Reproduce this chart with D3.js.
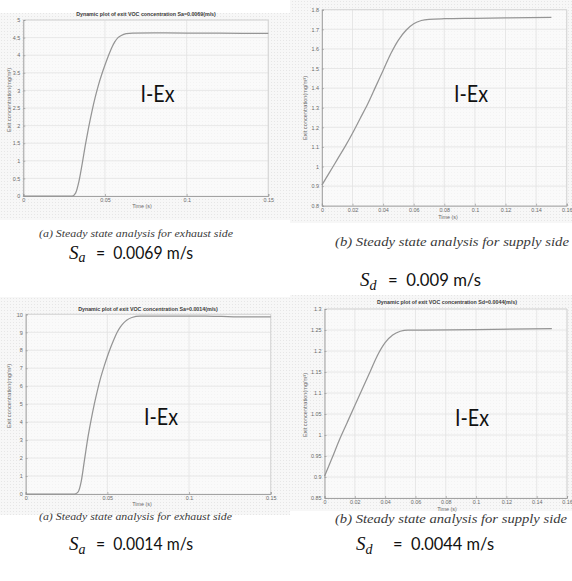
<!DOCTYPE html>
<html><head><meta charset="utf-8">
<script src="https://cdn.jsdelivr.net/npm/d3@7"></script>
<style>body{margin:0;background:#fff}</style>
</head><body><svg id="c" width="572" height="581"></svg>
<script>
// ---------- data ----------
const timeA1 = [0, 0.01, 0.02, 0.03, 0.032, 0.034, 0.036, 0.038, 0.040, 0.042, 0.044, 0.046, 0.048, 0.050, 0.052, 0.054, 0.056, 0.058, 0.060, 0.063, 0.067, 0.08, 0.1, 0.12, 0.15];
const concA1 = [0, 0, 0, 0, 0.08, 0.4, 0.9, 1.45, 1.95, 2.4, 2.8, 3.15, 3.45, 3.72, 3.97, 4.2, 4.38, 4.5, 4.56, 4.61, 4.63, 4.635, 4.63, 4.625, 4.62];

const timeD1 = [0, 0.005, 0.010, 0.015, 0.020, 0.025, 0.030, 0.035, 0.040, 0.045, 0.050, 0.055, 0.060, 0.065, 0.070, 0.080, 0.1, 0.12, 0.15];
const concD1 = [0.905, 0.97, 1.035, 1.1, 1.17, 1.245, 1.32, 1.405, 1.49, 1.575, 1.645, 1.695, 1.728, 1.745, 1.751, 1.754, 1.756, 1.758, 1.761];

const timeA2 = [0, 0.01, 0.02, 0.03, 0.032, 0.034, 0.036, 0.038, 0.040, 0.042, 0.044, 0.046, 0.048, 0.050, 0.052, 0.054, 0.056, 0.058, 0.060, 0.062, 0.065, 0.070, 0.09, 0.11, 0.12, 0.13, 0.15];
const concA2 = [0, 0, 0, 0, 0.1, 0.7, 1.9, 3.1, 4.1, 5.0, 5.8, 6.5, 7.1, 7.65, 8.15, 8.6, 9.0, 9.3, 9.52, 9.68, 9.82, 9.9, 9.9, 9.9, 9.88, 9.85, 9.85];

const timeD2 = [0, 0.005, 0.010, 0.015, 0.020, 0.025, 0.030, 0.035, 0.040, 0.045, 0.050, 0.055, 0.065, 0.1, 0.15];
const concD2 = [0.902, 0.945, 0.99, 1.03, 1.07, 1.11, 1.15, 1.19, 1.22, 1.238, 1.247, 1.25, 1.25, 1.251, 1.253];

const xTicksA = [0, 0.05, 0.1, 0.15];
const xTicksD = [0, 0.02, 0.04, 0.06, 0.08, 0.1, 0.12, 0.14, 0.16];
const yTicksA1 = [0, 0.5, 1, 1.5, 2, 2.5, 3, 3.5, 4, 4.5, 5];
const yTicksD1 = [0.8, 0.9, 1, 1.1, 1.2, 1.3, 1.4, 1.5, 1.6, 1.7, 1.8];
const yTicksA2 = [0, 1, 2, 3, 4, 5, 6, 7, 8, 9, 10];
const yTicksD2 = [0.85, 0.9, 0.95, 1, 1.05, 1.1, 1.15, 1.2, 1.25, 1.3];

const titles = ["Dynamic plot of exit VOC concentration Sa=0.0069(m/s)", "", "Dynamic plot of exit VOC concentration Sa=0.0014(m/s)", "Dynamic plot of exit VOC concentration Sd=0.0044(m/s)"];
const captions = ["(a) Steady state analysis for exhaust side", "(b) Steady state analysis for supply side", "(a) Steady state analysis for exhaust side", "(b) Steady state analysis for supply side"];
const velocityVals = ["0.0069", "0.009", "0.0014", "0.0044"];
const velocitySubs = ["a", "d", "a", "d"];
const xLabel = "Time (s)";
const yLabel = "Exit concentration(mg/m\u00B3)";
const overlayLabel = "I-Ex";

// ---------- layout ----------
const svg = d3.select("#c");
const panels = [
  {t: timeA1, c: concA1, xd: [0, 0.15], yd: [0, 5], xt: xTicksA, yt: yTicksA1,
   xr: [23.3, 268.3], yr: [196, 20], bg: [0, 13, 290, 207], title: [146, 16], ylab: [9, 100], xlab: [142, 208],
   iex: [157.5, 94], cap: [39, 236.5, 194, 11], math: [69, 258.5, 96, 97]},
  {t: timeD1, c: concD1, xd: [0, 0.16], yd: [0.8, 1.8], xt: xTicksD, yt: yTicksD1,
   xr: [321.9, 566.7], yr: [205.7, 9.7], bg: [290, 0, 282, 223], title: null, ylab: [305, 108], xlab: [448, 219],
   iex: [471, 94], cap: [335, 246, 234, 13], math: [360, 286, 388, 93]},
  {t: timeA2, c: concA2, xd: [0, 0.15], yd: [0, 10], xt: xTicksA, yt: yTicksA2,
   xr: [25.7, 270.7], yr: [494, 314.3], bg: [0, 297, 290, 218], title: [148, 310.7], ylab: [9, 396], xlab: [142, 506],
   iex: [161, 417], cap: [39, 520, 193, 11], math: [69, 550, 96, 97]},
  {t: timeD2, c: concD2, xd: [0, 0.16], yd: [0.85, 1.3], xt: xTicksD, yt: yTicksD2,
   xr: [324.5, 567], yr: [498, 309], bg: [290, 295, 282, 216], title: [447, 304], ylab: [305.5, 405], xlab: [447, 510.5],
   iex: [472, 418], cap: [335, 523, 232, 13], math: [356, 550, 393, 101]}
];

// dotted texture
const defs = svg.append("defs");
const pat = defs.append("pattern").attr("id", "dots").attr("width", 3).attr("height", 3).attr("patternUnits", "userSpaceOnUse");
pat.append("rect").attr("width", 3).attr("height", 3).attr("fill", "#f7f7f7");
pat.append("rect").attr("x", 1).attr("y", 1).attr("width", 1).attr("height", 1).attr("fill", "#e6e6e6");

const fmt = v => String(+v.toFixed(3));

panels.forEach((p, i) => {
  const g = svg.append("g");
  g.append("rect").attr("x", p.bg[0]).attr("y", p.bg[1]).attr("width", p.bg[2]).attr("height", p.bg[3]).attr("fill", "url(#dots)");
  const x = d3.scaleLinear().domain(p.xd).range(p.xr);
  const y = d3.scaleLinear().domain(p.yd).range(p.yr);

  // plot area
  g.append("rect").attr("x", p.xr[0]).attr("y", p.yr[1]).attr("width", p.xr[1] - p.xr[0]).attr("height", p.yr[0] - p.yr[1])
    .attr("fill", "#fbfbfb").attr("fill-opacity", 0.6);

  // grid
  g.append("g").selectAll("line").data(p.xt).join("line")
    .attr("x1", d => x(d)).attr("x2", d => x(d)).attr("y1", p.yr[0]).attr("y2", p.yr[1])
    .attr("stroke", "#e2e2e2").attr("stroke-width", 0.8);
  g.append("g").selectAll("line").data(p.yt).join("line")
    .attr("y1", d => y(d)).attr("y2", d => y(d)).attr("x1", p.xr[0]).attr("x2", p.xr[1])
    .attr("stroke", "#e2e2e2").attr("stroke-width", 0.8);

  // box top/right
  g.append("path").attr("d", `M${p.xr[0]},${p.yr[1]}H${p.xr[1]}V${p.yr[0]}`).attr("fill", "none").attr("stroke", "#cfcfcf").attr("stroke-width", 0.8);

  // axes
  const xAxis = d3.axisBottom(x).tickValues(p.xt).tickSize(-2).tickPadding(2.5).tickFormat(fmt);
  const yAxis = d3.axisLeft(y).tickValues(p.yt).tickSize(-2).tickPadding(3).tickFormat(fmt);
  const gx = g.append("g").attr("transform", `translate(0,${p.yr[0]})`).call(xAxis);
  const gy = g.append("g").attr("transform", `translate(${p.xr[0]},0)`).call(yAxis);
  [gx, gy].forEach(a => {
    a.select(".domain").attr("stroke", "#9a9a9a").attr("stroke-width", 0.9);
    a.selectAll(".tick line").attr("stroke", "#9a9a9a").attr("stroke-width", 0.7);
    a.selectAll(".tick text").attr("fill", "#6a6a6a").attr("font-size", 5.4).attr("font-family", "Liberation Sans, Arial, sans-serif");
  });

  // curve
  const pts = p.t.map((t, k) => [t, p.c[k]]);
  g.append("path").datum(pts)
    .attr("d", d3.line().x(d => x(d[0])).y(d => y(d[1])).curve(d3.curveMonotoneX))
    .attr("fill", "none").attr("stroke", "#959595").attr("stroke-width", 1.25);

  // title
  if (p.title) {
    g.append("text").attr("x", p.title[0]).attr("y", p.title[1]).attr("text-anchor", "middle")
      .attr("font-family", "Liberation Sans, Arial, sans-serif").attr("font-size", 5.3).attr("font-weight", "bold")
      .attr("fill", "#3a3a3a").text(titles[i]);
  }
  // labels
  g.append("text").attr("x", p.xlab[0]).attr("y", p.xlab[1]).attr("text-anchor", "middle")
    .attr("font-family", "Liberation Sans, Arial, sans-serif").attr("font-size", 5.4).attr("fill", "#6a6a6a").text(xLabel);
  g.append("text").attr("transform", `translate(${p.ylab[0]},${p.ylab[1]}) rotate(-90)`).attr("text-anchor", "middle")
    .attr("dy", "0.35em")
    .attr("font-family", "Liberation Sans, Arial, sans-serif").attr("font-size", 5.6).attr("fill", "#6a6a6a").text(yLabel);

  // overlay label
  g.append("text").attr("x", p.iex[0] - 17).attr("y", p.iex[1]).attr("dy", "0.36em")
    .attr("textLength", 34).attr("lengthAdjust", "spacingAndGlyphs")
    .attr("font-family", "Lato, 'Open Sans', sans-serif").attr("font-size", 23).attr("fill", "#111").text(overlayLabel);

  // caption (outside the panel)
  svg.append("text").attr("x", p.cap[0]).attr("y", p.cap[1])
    .attr("font-family", "'Liberation Serif', 'DejaVu Serif', serif").attr("font-style", "italic")
    .attr("font-size", p.cap[3]).attr("fill", "#3a3a3a")
    .attr("textLength", p.cap[2]).attr("lengthAdjust", "spacingAndGlyphs").text(captions[i]);

  // velocity expression
  const m = svg.append("g");
  m.append("text").attr("x", p.math[0]).attr("y", p.math[1])
    .attr("font-family", "'Liberation Serif', 'DejaVu Serif', serif").attr("font-style", "italic").attr("font-size", 19).attr("fill", "#111")
    .text("S").append("tspan").attr("font-size", 14).attr("dy", 3.5).text(velocitySubs[i]);
  m.append("text").attr("x", p.math[2]).attr("y", p.math[1])
    .attr("font-family", "Lato, 'Open Sans', sans-serif").attr("font-size", 17).attr("fill", "#111")
    .attr("xml:space", "preserve")
    .attr("textLength", p.math[3]).attr("lengthAdjust", "spacingAndGlyphs")
    .text("=  " + velocityVals[i] + " m/s");
});
</script>
</body></html>
